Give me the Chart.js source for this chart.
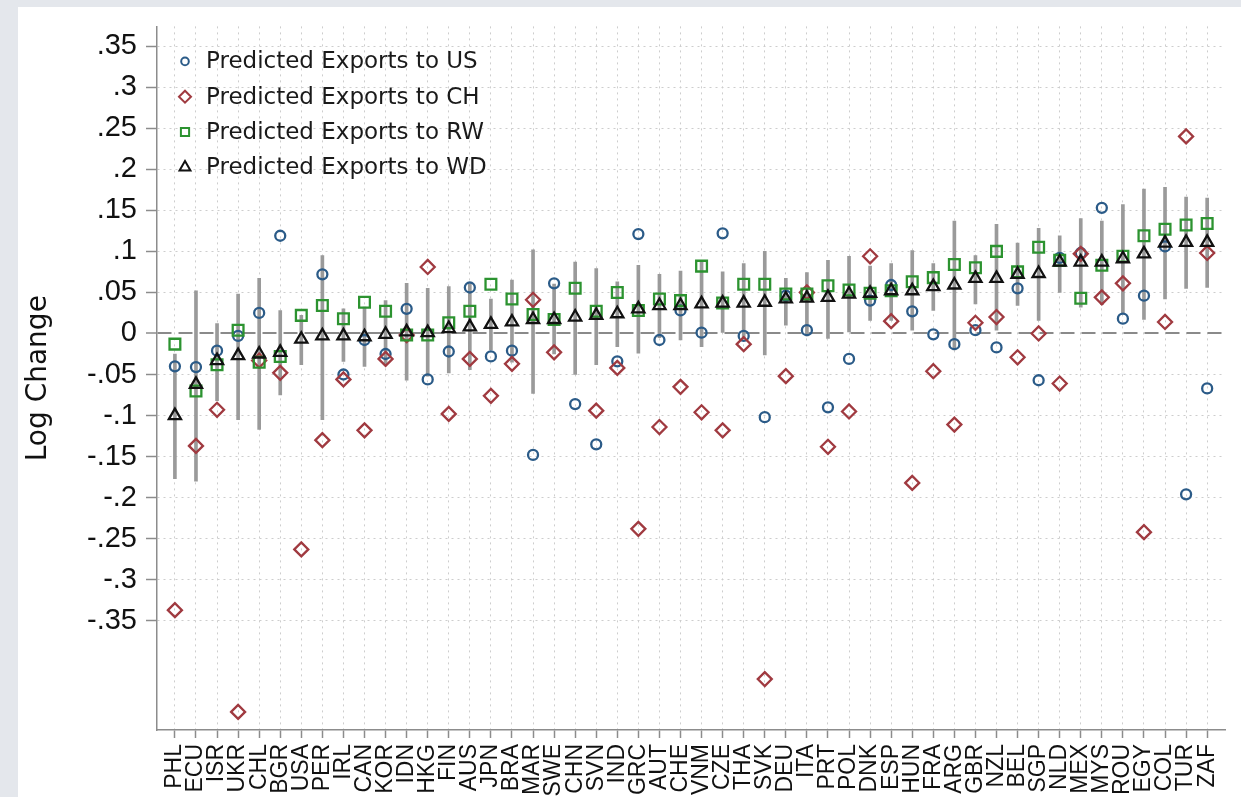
<!DOCTYPE html>
<html><head><meta charset="utf-8">
<script src="https://cdn.jsdelivr.net/npm/chart.js@4.4.1/dist/chart.umd.min.js"></script>
<style>
html,body{margin:0;padding:0;width:1241px;height:797px;overflow:hidden;background:#e4e7ec;}
#bg{position:absolute;left:18px;top:7px;width:1223px;height:790px;background:#fff;}
#wrap{position:absolute;left:0;top:0;width:1241px;height:797px;}
</style></head><body>
<div id="bg"></div>
<div id="wrap"><canvas id="c" width="1241" height="797"></canvas></div>
<script>
const categories = ['PHL','ECU','ISR','UKR','CHL','BGR','USA','PER','IRL','CAN','KOR','IDN','HKG','FIN','AUS','JPN','BRA','MAR','SWE','CHN','SVN','IND','GRC','AUT','CHE','VNM','CZE','THA','SVK','DEU','ITA','PRT','POL','DNK','ESP','HUN','FRA','ARG','GBR','NZL','BEL','SGP','NLD','MEX','MYS','ROU','EGY','COL','TUR','ZAF'];

const exportsUS = [-0.040,-0.041,-0.021,-0.003,0.025,0.119,null,0.072,-0.050,-0.008,-0.025,0.030,-0.056,-0.022,0.056,-0.028,-0.021,-0.148,0.061,-0.086,-0.135,-0.034,0.121,-0.008,0.028,0.001,0.122,-0.003,-0.102,0.046,0.004,-0.090,-0.031,0.040,0.059,0.027,-0.001,-0.013,0.004,-0.017,0.055,-0.057,0.092,0.098,0.153,0.018,0.046,0.106,-0.196,-0.067];

const exportsCH = [-0.337,-0.137,-0.093,-0.461,-0.033,-0.048,-0.263,-0.130,-0.056,-0.118,-0.031,-0.002,0.081,-0.098,-0.031,-0.076,-0.037,0.041,-0.023,null,-0.094,-0.042,-0.238,-0.114,-0.065,-0.096,-0.118,-0.013,-0.421,-0.052,0.050,-0.138,-0.095,0.094,0.015,-0.182,-0.046,-0.111,0.013,0.020,-0.029,0.000,-0.061,0.097,0.044,0.061,-0.242,0.014,0.240,0.098];

const exportsRW = [-0.013,-0.070,-0.038,0.004,-0.035,-0.028,0.022,0.034,0.018,0.038,0.027,-0.002,-0.002,0.013,0.027,0.060,0.042,0.023,0.017,0.055,0.027,0.050,0.028,0.042,0.040,0.082,0.037,0.060,0.060,0.048,0.048,0.058,0.053,0.049,0.052,0.063,0.068,0.084,0.080,0.100,0.075,0.105,0.089,0.043,0.083,0.094,0.119,0.127,0.132,0.134];

const exportsWD = [-0.100,-0.062,-0.033,-0.027,-0.025,-0.023,-0.007,-0.003,-0.003,-0.004,-0.001,0.002,0.001,0.006,0.008,0.011,0.014,0.017,0.017,0.020,0.022,0.024,0.030,0.034,0.034,0.036,0.037,0.037,0.038,0.042,0.043,0.044,0.048,0.049,0.052,0.052,0.057,0.059,0.067,0.067,0.072,0.073,0.087,0.087,0.087,0.091,0.097,0.110,0.111,0.111];

const ciLow = [-0.177,-0.180,-0.082,-0.105,-0.117,-0.075,-0.038,-0.105,-0.034,-0.040,-0.038,-0.057,-0.052,-0.048,-0.044,-0.020,-0.035,-0.073,-0.025,-0.050,-0.038,-0.016,-0.024,-0.005,-0.008,-0.016,0.000,-0.005,-0.026,0.010,-0.003,-0.006,0.002,0.016,0.016,0.004,0.028,-0.020,0.036,0.004,0.034,0.016,0.050,0.032,0.035,0.025,0.017,0.042,0.055,0.056];

const ciHigh = [-0.025,0.052,0.012,0.048,0.067,0.028,0.022,0.095,0.030,0.032,0.040,0.061,0.055,0.057,0.060,0.042,0.065,0.102,0.060,0.087,0.079,0.063,0.083,0.072,0.076,0.088,0.075,0.085,0.100,0.067,0.074,0.089,0.094,0.082,0.085,0.101,0.085,0.137,0.095,0.133,0.110,0.128,0.119,0.140,0.137,0.157,0.176,0.178,0.166,0.165];

const yTickValues = [-0.35,-0.3,-0.25,-0.2,-0.15,-0.1,-0.05,0,0.05,0.1,0.15,0.2,0.25,0.3,0.35];

const seriesLabels = ['Predicted Exports to US','Predicted Exports to CH','Predicted Exports to RW','Predicted Exports to WD'];

const COL_US = '#2b5b88', COL_CH = '#a03a40', COL_RW = '#2c9330', COL_WD = '#111111';

function pts(arr){ return arr.map((v,i)=>({x:i,y:v})); }
function isZero(c){ return c && c.tick && Math.abs(c.tick.value) < 1e-9; }
function fmtY(v){
  if (Math.abs(v) < 1e-9) return '0';
  const s = (Math.round(v*100)/100).toString();
  return s.replace('0.', '.');
}

const legendStyles = [
  {style:'circle', color:COL_US, r:3.8},
  {style:'rectRot', color:COL_CH, r:6},
  {style:'rect', color:COL_RW, r:5.8},
  {style:'triangle', color:COL_WD, r:6.3}
];

const insideLegend = {
  id:'insideLegend',
  afterDraw(chart){
    const ctx = chart.ctx, a = chart.chartArea;
    ctx.save();
    ctx.font = '23px "DejaVu Sans"';
    ctx.textBaseline = 'middle';
    ctx.textAlign = 'left';
    seriesLabels.forEach((t,k)=>{
      const y = a.top + 35 + k*35.3;
      const x = a.left + 28;
      const st = legendStyles[k];
      ctx.save();
      ctx.strokeStyle = st.color;
      ctx.fillStyle = 'rgba(0,0,0,0)';
      ctx.lineWidth = 2;
      Chart.helpers.drawPoint(ctx, {pointStyle:st.style, radius:st.r, rotation:0, borderWidth:2}, x, y);
      ctx.restore();
      ctx.fillStyle = '#1a1a1a';
      ctx.fillText(t, a.left + 49, y + 1);
    });
    ctx.restore();
  }
};

const common = {showLine:false, pointBackgroundColor:'rgba(0,0,0,0)', backgroundColor:'rgba(0,0,0,0)', pointBorderWidth:2.3, pointHoverRadius:0};

new Chart(document.getElementById('c'), {
  type:'scatter',
  data:{datasets:[
    Object.assign({label:seriesLabels[3], data:pts(exportsWD), pointStyle:'triangle', pointRadius:7, pointBorderColor:COL_WD, borderColor:COL_WD, order:1}, common),
    Object.assign({label:seriesLabels[2], data:pts(exportsRW), pointStyle:'rect', pointRadius:7.6, pointBorderColor:COL_RW, borderColor:COL_RW, order:2}, common),
    Object.assign({label:seriesLabels[1], data:pts(exportsCH), pointStyle:'rectRot', pointRadius:7, pointBorderColor:COL_CH, borderColor:COL_CH, order:3}, common),
    Object.assign({label:seriesLabels[0], data:pts(exportsUS), pointStyle:'circle', pointRadius:5, pointBorderColor:COL_US, borderColor:COL_US, order:4}, common),
    {type:'bar', label:'CI', data:ciLow.map((lo,i)=>({x:i, y:[lo, ciHigh[i]]})), backgroundColor:'#9a9a9a', borderWidth:0, barThickness:3, order:10}
  ]},
  options:{
    responsive:false, animation:false,
    events:[],
    layout:{padding:{left:0, right:14, top:22, bottom:0}},
    plugins:{legend:{display:false}, tooltip:{enabled:false}},
    scales:{
      x:{type:'linear', min:-0.85, max:49.85, offset:false,
        afterBuildTicks: s => { s.ticks = categories.map((c,i)=>({value:i})); },
        afterFit: s => { s.height = 67; },
        ticks:{autoSkip:false, minRotation:90, maxRotation:90, padding:6, color:'#111',
          font:{family:'Liberation Sans', size:23}, callback: v => categories[v]},
        grid:{offset:false, color:'#cdcdcd', lineWidth:1, drawTicks:true, tickLength:8, tickColor:'#8c8c8c', tickWidth:1.5, tickBorderDash:[]},
        border:{display:true, color:'#8c8c8c', width:1.5, dash:[2,4]}
      },
      y:{type:'linear', min:-0.483, max:0.374,
        afterBuildTicks: s => { s.ticks = yTickValues.map(v=>({value:v})); },
        afterFit: s => { s.width = 157; },
        ticks:{padding:9, color:'#111', font:{family:'Liberation Sans', size:29}, callback: v => fmtY(v)},
        grid:{color: c => isZero(c) ? '#8a8a8a' : '#cdcdcd', lineWidth: c => isZero(c) ? 2 : 1,
          tickLength:11, tickColor:'#8c8c8c', tickWidth:1.5, tickBorderDash:[]},
        border:{display:true, color:'#8c8c8c', width:1.5, dash: c => isZero(c) ? [14,7] : [2,4]},
        title:{display:true, text:'Log Change', color:'#111', font:{family:'DejaVu Sans', size:28}, padding:{top:22, bottom:0}}
      }
    }
  },
  plugins:[insideLegend]
});
</script>
</body></html>
